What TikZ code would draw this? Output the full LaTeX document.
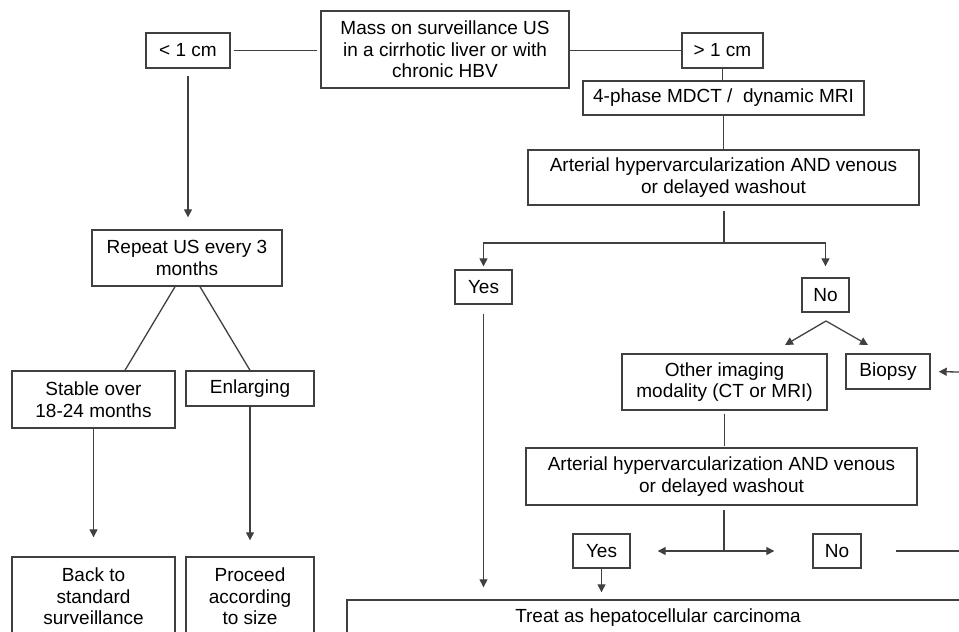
\documentclass[tikz,border=0pt]{standalone}
\usepackage{fontspec}
\setmainfont{Liberation Sans}
\usetikzlibrary{arrows.meta}

\begin{document}
\begin{tikzpicture}[x=1pt,y=-1pt,
  box/.style={draw=black!75,line width=1.4pt,align=center,inner sep=0pt,
    text=black,font=\fontsize{19}{21.5}\selectfont},
  ln/.style={draw=black!75,line width=1.3pt},
  arr/.style={ln,-{Triangle[length=8pt,width=8pt]}}]
\useasboundingbox (0,0) rectangle (959,632);
\clip (0,0) rectangle (959,632);
% top row
\node[box,minimum width=248,minimum height=77] (mass) at (445,49.5)
  {Mass on surveillance US\\in a cirrhotic liver or with\\chronic HBV};
\node[box,minimum width=84,minimum height=35] (lt) at (188,50.5) {< 1 cm};
\node[box,minimum width=81,minimum height=35] (gt) at (722.5,50.5) {> 1 cm};
% right branch
\node[box,minimum width=281,minimum height=34] (mdct) at (723.5,98) {4-phase MDCT /~ dynamic MRI};
\node[box,minimum width=391,minimum height=55] (art1) at (723.5,177.5)
  {Arterial hypervarcularization AND venous\\or delayed washout};
\node[box,minimum width=57,minimum height=34] (yes1) at (483.5,287) {Yes};
\node[box,minimum width=47,minimum height=34] (no1) at (825.5,295) {No};
\node[box,minimum width=205,minimum height=56] (other) at (724.5,382)
  {Other imaging\\modality (CT or MRI)};
\node[box,minimum width=84,minimum height=35] (biopsy) at (888,371.5) {Biopsy};
\node[box,minimum width=391,minimum height=57] (art2) at (721.5,476.5)
  {Arterial hypervarcularization AND venous\\or delayed washout};
\node[box,minimum width=57,minimum height=34] (yes2) at (601.5,551) {Yes};
\node[box,minimum width=48,minimum height=34] (no2) at (837,551) {No};
\node[box,minimum width=622,minimum height=36] (treat) at (658,618) {Treat as hepatocellular carcinoma};
% left branch
\node[box,minimum width=190,minimum height=56] (repeat) at (187,258) {Repeat US every 3\\months};
\node[box,minimum width=163,minimum height=57] (stable) at (93.5,399.5) {Stable over\\18-24 months};
\node[box,minimum width=128,minimum height=35] (enlarge) at (250,388.5) {Enlarging};
\node[box,minimum width=163,minimum height=79] (back) at (93.5,596.5) {Back to\\standard\\surveillance};
\node[box,minimum width=128,minimum height=79] (proceed) at (250,596.5) {Proceed\\according\\to size};

\coordinate (j1) at (724,243);
\coordinate (j2) at (724,551);
\coordinate (nsplit) at (826,321);
\coordinate (otip) at (785,345);
\coordinate (btip) at (868,345);
\coordinate (edge1) at (959,372);
\coordinate (edge2) at (959,551);

% connectors
\draw[ln,shorten <=3,shorten >=3] (lt.east) -- (lt.east -| mass.west);
\draw[ln] (gt.west -| mass.east) -- (gt.west);
\draw[ln] (gt.south) -- (gt.south |- mdct.north);
\draw[ln] (art1.north |- mdct.south) -- (art1.north);
\draw[ln,shorten <=5] (j1 |- art1.south) -- (j1);
\draw[arr,shorten >=3] (j1) -| (yes1.north);
\draw[arr,shorten >=11] (j1) -| (no1.north);
\draw[arr,shorten <=9,shorten >=12] (yes1.south) -- (yes1.south |- treat.north);
\foreach \t in {otip,btip}
  \draw[arr] (nsplit) -- (\t);
\draw[arr,shorten >=8] (edge1) -- (biopsy.east);
\draw[ln,shorten <=3,shorten >=1] (other.south) -- (art2.north -| other.south);
\draw[ln,shorten <=4] (art2.south -| j2) -- (j2);
\draw[arr,shorten >=27] (j2) -- (yes2.east);
\draw[arr,shorten >=38] (j2) -- (no2.west);
\draw[ln,shorten <=34] (no2.east) -- (edge2);
\draw[arr,shorten >=7] (yes2.south) -- (yes2.south |- treat.north);
\draw[arr,shorten <=7,shorten >=12] (lt.south) -- (repeat.north -| lt.south);
\draw[ln] ([xshift=-12pt]repeat.south) -- ([xshift=31.5pt]stable.north);
\draw[ln] ([xshift=13pt]repeat.south) -- (enlarge.north);
\draw[arr,shorten >=19] (stable.south) -- (back.north);
\draw[arr,shorten >=16] (enlarge.south) -- (proceed.north);
\end{tikzpicture}
\end{document}
